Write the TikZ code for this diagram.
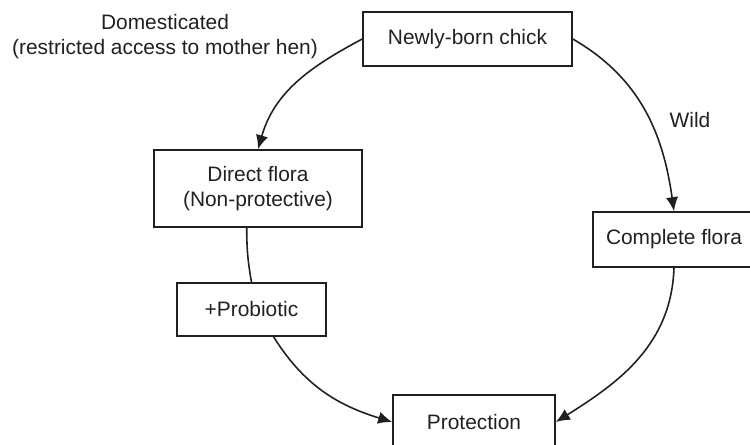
\documentclass[tikz,border=0pt]{standalone}
\usepackage{fontspec}
\setmainfont{Liberation Sans}
\usepackage{xcolor}
\usetikzlibrary{arrows.meta}
\definecolor{ink}{RGB}{35, 31, 32}

\begin{document}
\begin{tikzpicture}[x=0.02cm, y=0.02cm, font=\fontsize{11.9pt}{13.8pt}\selectfont, text=ink, line width=0.9pt]
\useasboundingbox (0,0) rectangle (750,444);

% Boxes
\node[draw=ink, minimum width=4.18cm, minimum height=1.08cm] (Chick) at (467.5,405) {Newly-born chick};
\node[draw=ink, minimum width=4.16cm, minimum height=1.54cm, align=center] (Direct) at (258,255.5) {Direct flora\\(Non-protective)};
\node[draw=ink, minimum width=2.98cm, minimum height=1.06cm] (Probiotic) at (251.5,134.5) {+Probiotic};
\node[draw=ink, minimum width=3.24cm, minimum height=1.10cm] (Complete) at (674,204.5) {Complete flora};
\node[draw=ink, minimum width=3.24cm, minimum height=1.08cm] (Protection) at (474,22) {Protection};

% Labels
\node[align=center] (Domesticated) at (165,407.5) {Domesticated\\(restricted access to mother hen)};
\node (Wild) at (690,324) {Wild};

% Circle lines
\draw[-{Latex[length=8pt, width=7pt]}, ink] (Chick.west) to[out=208, in=74] (Direct.north);
\draw[-{Latex[length=8pt, width=7pt]}, ink] (Chick.east) to[out=-30, in=98] (Complete.north);
\draw[ink] (Direct.-106) to[out=-90, in=100] (Probiotic.north);
\draw[-{Latex[length=8pt, width=7pt]}, ink] (Probiotic.-51) to[out=-58, in=163] (Protection.west);
\draw[-{Latex[length=8pt, width=7pt]}, ink] (Complete.south) to[out=-92, in=32] (Protection.east);

\end{tikzpicture}
\end{document}
